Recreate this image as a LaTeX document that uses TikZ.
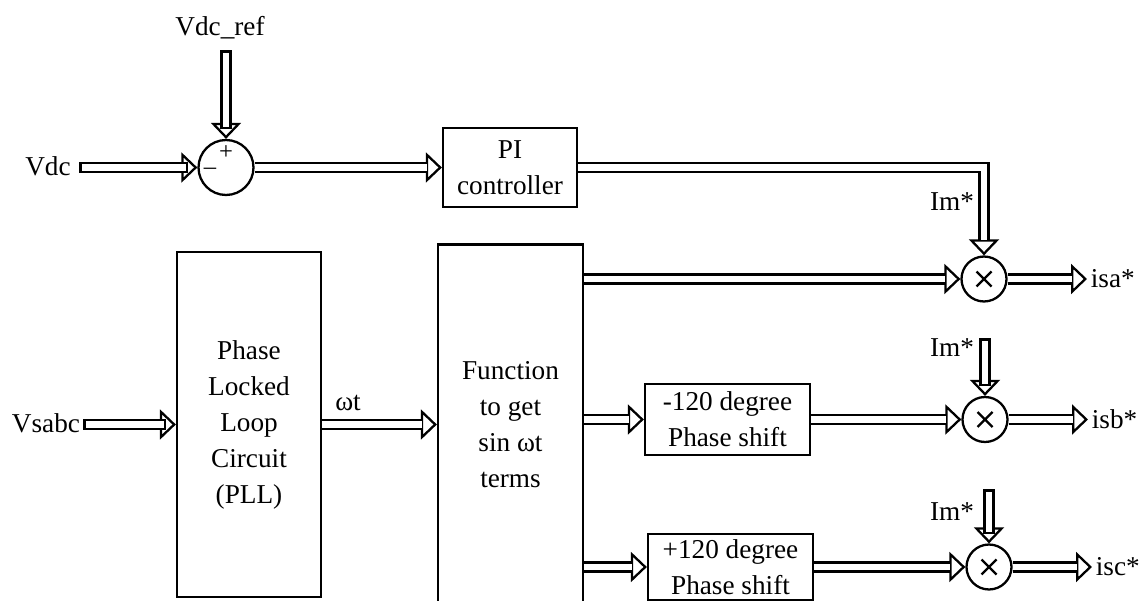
\documentclass[tikz,border=0pt]{standalone}
\usepackage{fontspec}
\setmainfont{Liberation Serif}
\usetikzlibrary{calc,arrows.meta}
\tikzstyle{blk}=[draw, line width=1.3pt, align=center, inner sep=0]
\tikzstyle{mul}=[shape=circle, draw, line width=1.3pt, minimum size=0.9cm, inner sep=0,
  path picture={\draw[line width=1.3pt] (path picture bounding box.center) +(-0.15cm,-0.15cm) -- +(0.15cm,0.15cm) +(-0.15cm,0.15cm) -- +(0.15cm,-0.15cm);}]
\tikzstyle{shaft}=[double, double distance=0.13cm, line width=1.3pt]
\tikzstyle{closed}=[line cap=rect]
\tikzstyle{head}=[white, line width=1.3pt, -{Triangle[length=0.32cm, width=0.6cm, color=black, fill=white]}]
\newcommand{\flow}[3][]{%
  \draw[head] ($(#3)!0.32cm!(#2)$) -- (#3);
  \draw[shaft,#1] (#2) -- ($(#3)!0.3cm!(#2)$);}

\begin{document}
\begin{tikzpicture}[x=0.02cm, y=-0.02cm, font=\fontsize{15.5}{20.5}\selectfont]
\useasboundingbox (0,0) rectangle (1146,601);
\clip (0,0) rectangle (1146,601);
% blocks
\node[blk, minimum width=2.68cm, minimum height=1.58cm] (pi) at (510,167.5) {PI\\controller};
\node[blk, minimum width=2.88cm, minimum height=6.9cm] (pll) at (249,424.5) {Phase\\Locked\\Loop\\Circuit\\(PLL)};
\node[blk, minimum width=2.9cm, minimum height=7.2cm] (fun) at (510.5,424.5) {Function\\to get\\sin ωt\\terms};
\node[blk, minimum width=3.3cm, minimum height=1.42cm] (m120) at (727.5,419.5) {-120 degree\\Phase shift};
\node[blk, minimum width=3.3cm, minimum height=1.32cm] (p120) at (730.5,567) {+120 degree\\Phase shift};
% summing point and multipliers
\node[shape=circle, draw, line width=1.3pt, minimum size=1.1cm, inner sep=0] (sum) at (226,167.5) {};
\node[font=\fontsize{14}{14}\selectfont, inner sep=0] (plus) at (226,153) {+};
\node[font=\fontsize{14}{14}\selectfont, inner sep=0] (minus) at (210,171) {–};
\node[mul] (m1) at (984,279) {};
\node[mul] (m2) at (985,419.5) {};
\node[mul] (m3) at (989,567) {};
% signal names
\node (vdcref) at (220,28) {Vdc\_ref};
\node (vdc) at (48,166) {Vdc};
\node (vsabc) at (46,423) {Vsabc};
\node (wt) at (348,403) {ωt};
\foreach \n/\y in {1/202,2/348,3/512} {\node[anchor=east, inner sep=1pt] (im\n) at (976,\y) {Im*};}
\node[anchor=west, inner sep=2pt] (isa) at (1087,279) {isa*};
\node[anchor=west, inner sep=2pt] (isb) at (1088,419.5) {isb*};
\node[anchor=west, inner sep=2pt] (isc) at (1092,567) {isc*};
% free ends and bends
\coordinate (vdcin) at (85,167.5);
\coordinate (refin) at (226,56);
\coordinate (vsin) at (89,424.5);
\coordinate (im2in) at (985,344);
\coordinate (im3in) at (989,495);
\coordinate (turn) at (pi.east -| m1.north);
\coordinate (f1) at (fun.east |- m1.west);
\coordinate (f2) at (fun.east |- m120.west);
\coordinate (f3) at (fun.east |- p120.west);
% connections
\flow[closed]{vdcin}{sum.west}
\flow[closed]{refin}{sum.north}
\flow{sum.east}{pi.west}
\draw[head] ($(m1.north)!0.32cm!(turn)$) -- (m1.north);
\draw[shaft] (pi.east) -- (turn) -- ($(m1.north)!0.3cm!(turn)$);
\flow[closed]{vsin}{pll.west}
\flow{pll.east}{fun.west}
\flow{f1}{m1.west}
\flow{f2}{m120.west}
\flow{m120.east}{m2.west}
\flow{f3}{p120.west}
\flow{p120.east}{m3.west}
\flow[closed]{im2in}{m2.north}
\flow[closed]{im3in}{m3.north}
\flow{m1.east}{isa.west}
\flow{m2.east}{isb.west}
\flow{m3.east}{isc.west}
\end{tikzpicture}
\end{document}
